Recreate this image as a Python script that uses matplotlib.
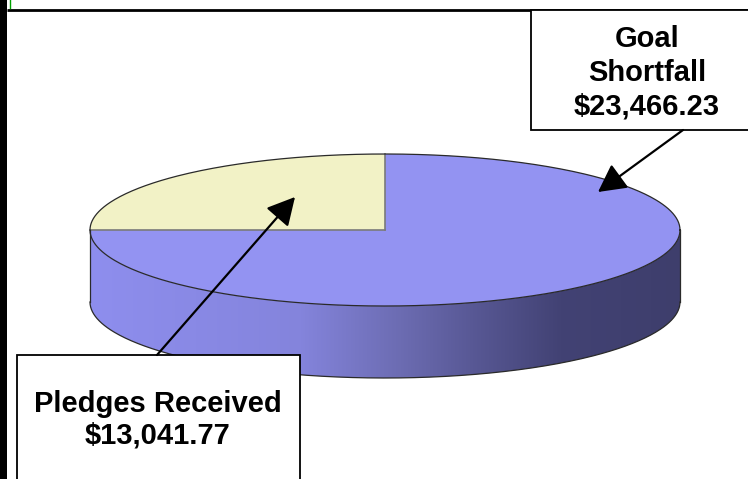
import numpy as np
import matplotlib
matplotlib.use("Agg")
import matplotlib.pyplot as plt
from matplotlib.patches import Polygon, Rectangle, FancyArrowPatch
from matplotlib.colors import to_rgb

# ---- data ----
categories = ["Pledges Received", "Goal Shortfall"]
amounts = [13041.77, 23466.23]
# slice shares as drawn in the reference picture (percent)
shares = [25.0, 75.0]
label_lines = [["Pledges Received", "$13,041.77"], ["Goal", "Shortfall", "$23,466.23"]]
top_colors = ["#f2f2c6", "#9393f2"]

# ---- layout ----
W, H = 748, 479
fig = plt.figure(figsize=(W / 100, H / 100), dpi=100)
ax = fig.add_axes([0, 0, 1, 1])
ax.set_xlim(0, W)
ax.set_ylim(H, 0)
ax.axis("off")

cx, cy, a, b, depth = 385.0, 230.0, 295.0, 76.0, 72.0


def pt(theta_deg, dy=0.0):
    t = np.radians(theta_deg)
    return cx + a * np.cos(t), cy - b * np.sin(t) + dy


# angles of slices (counter-clockwise from top, screen view)
starts = []
ang = 90.0
for s in shares:
    starts.append((ang, ang + 360.0 * s / 100.0))
    ang += 360.0 * s / 100.0

# side gradient (by x)
stops_x = [90, 300, 400, 480, 560, 680]
stops_c = ["#8e8eee", "#8484dc", "#6c6cb2", "#565692", "#424274", "#3e3e6c"]
xs = np.arange(W)
rgb = np.array([to_rgb(c) for c in stops_c])
grad = np.stack([np.interp(xs, stops_x, rgb[:, k]) for k in range(3)], axis=-1)
grad_img = np.repeat(grad[None, :, :], 2, axis=0)

side_flat = ["#d8d8a8", None]
for i, (t0, t1) in enumerate(starts):
    for off in (0, 360, -360):
        lo = max(t0, 180 + off)
        hi = min(t1, 360 + off)
        if hi > lo:
            th = np.linspace(lo, hi, 200)
            top = [pt(t) for t in th]
            bot = [pt(t, depth) for t in th[::-1]]
            poly = Polygon(top + bot, closed=True, facecolor="none", edgecolor="none")
            ax.add_patch(poly)
            if side_flat[i] is None:
                im = ax.imshow(grad_img, extent=(0, W, H, 0), aspect="auto", zorder=1)
                im.set_clip_path(poly)
            else:
                ax.add_patch(Polygon(top + bot, closed=True, facecolor=side_flat[i],
                                     edgecolor="none", zorder=1))

# top wedges
for i, (t0, t1) in enumerate(starts):
    th = np.linspace(t0, t1, 300)
    verts = [(cx, cy)] + [pt(t) for t in th]
    ax.add_patch(Polygon(verts, closed=True, facecolor=top_colors[i],
                         edgecolor="none", zorder=2))
for (t0, t1) in starts:
    x1, y1 = pt(t0)
    ax.plot([cx, x1], [cy, y1], color="#7a7a7a", lw=1.2, zorder=3)

# outlines
th = np.linspace(0, 360, 600)
e = np.array([pt(t) for t in th])
ax.plot(e[:, 0], e[:, 1], color="#2a2a2a", lw=0.9, zorder=3)
thf = np.linspace(180, 360, 300)
eb = np.array([pt(t, depth) for t in thf])
ax.plot(eb[:, 0], eb[:, 1], color="#2a2a2a", lw=0.9, zorder=3)
for t in (180, 360):
    x0, y0 = pt(t)
    ax.plot([x0, x0], [y0, y0 + depth], color="#2a2a2a", lw=0.9, zorder=3)

# ---- frame decorations ----
ax.add_patch(Rectangle((0, 0), 7, H, facecolor="black", edgecolor="none", zorder=5))
ax.plot([7, W], [10, 10], color="black", lw=2, zorder=5, solid_capstyle="butt")
ax.plot([10, 10], [0, 8], color="#00a000", lw=1, zorder=5)

# ---- label boxes ----
boxes = [(17, 355, 300, 490), (531, 10, 760, 130)]
baselines = [[411.5, 443.5], [46.5, 80.5, 114.5]]
centers_x = [158, 647]
arrows = [((157, 355), (295, 197)), ((683, 130), (598, 192))]
for i in range(2):
    x0, y0, x1, y1 = boxes[i]
    ax.add_patch(Rectangle((x0, y0), x1 - x0, y1 - y0, facecolor="white",
                           edgecolor="black", lw=1.3, zorder=6, clip_on=False))
    for line, yb in zip(label_lines[i], baselines[i]):
        ax.text(centers_x[i], yb, line, ha="center", va="baseline",
                fontsize=21, fontweight="bold", family="Liberation Sans",
                color="black", zorder=7)
    (sx, sy), (ex, ey) = arrows[i]
    ax.add_patch(FancyArrowPatch((sx, sy), (ex, ey), arrowstyle="-|>,head_length=8.5,head_width=4.5",
                                 mutation_scale=2, color="black", lw=1.6, zorder=8,
                                 shrinkA=0, shrinkB=0))

fig.savefig("out.png", dpi=100)
